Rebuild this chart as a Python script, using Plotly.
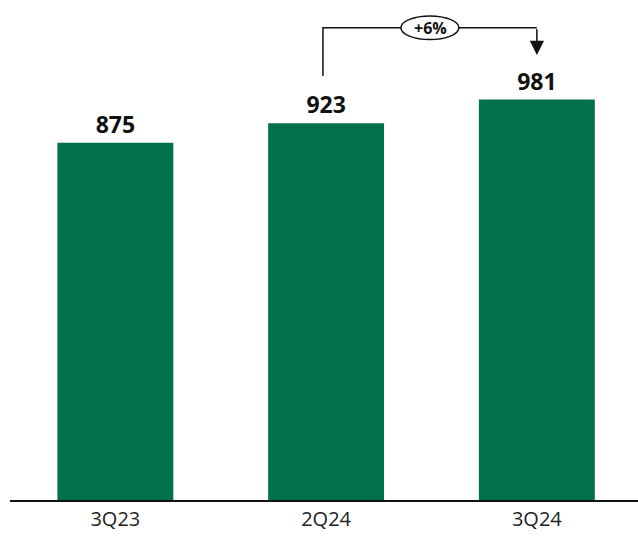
import plotly.graph_objects as go

categories = ["3Q23", "2Q24", "3Q24"]
values = [875, 923, 981]
growth_label = "+6%"

green = "#00714A"
fig = go.Figure()
fig.add_trace(go.Bar(
    x=categories, y=values, width=0.55,
    marker=dict(color=green, line=dict(width=0)),
    text=[str(v) for v in values], textposition="outside",
    textfont=dict(family="Open Sans", size=23, color="#111"),
    texttemplate="<b>%{text}</b>", cliponaxis=False,
))

# bracket from 2Q24 to 3Q24
top_y = 1157
fig.add_shape(type="path", xref="x", yref="y",
              path=f"M 0.985,{values[1] + 116} L 0.985,{top_y} L 2,{top_y}",
              line=dict(color="#111", width=1.5))
fig.add_annotation(x=2, y=values[2] + 109, ax=2, ay=top_y, xref="x", yref="y",
                   axref="x", ayref="y", text="", showarrow=True,
                   arrowhead=2, arrowsize=1.9, arrowwidth=1.5, arrowcolor="#111")
fig.add_shape(type="circle", xref="x", yref="y", x0=1.355, x1=1.63, y0=1128, y1=1186,
              line=dict(color="#111", width=1.5), fillcolor="white")
fig.add_annotation(x=1.493, y=1157, xref="x", yref="y", text=f"<b>{growth_label}</b>",
                   showarrow=False, font=dict(family="Open Sans", size=16, color="#111"))

fig.update_layout(
    width=638, height=537, margin=dict(l=10, r=0, t=0, b=37),
    plot_bgcolor="white", paper_bgcolor="white", showlegend=False,
    xaxis=dict(range=[-0.5, 2.48], showline=True, linecolor="#111", linewidth=2,
               ticks="", tickfont=dict(family="Open Sans", size=20, color="#222")),
    yaxis=dict(range=[0, 1225], visible=False, showgrid=False),
)
fig.write_html("out.html")
